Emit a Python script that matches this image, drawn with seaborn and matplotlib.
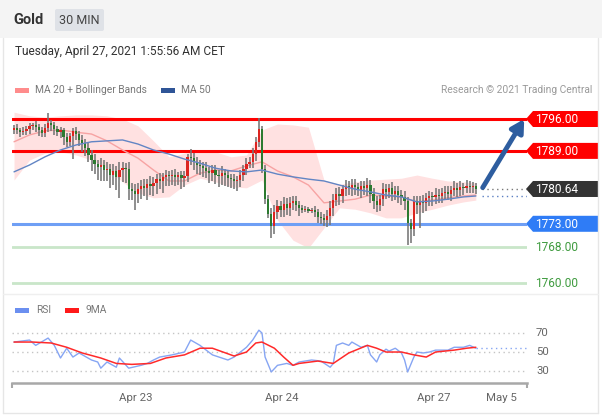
import matplotlib
matplotlib.use("Agg")
import numpy as np
import pandas as pd
import matplotlib.pyplot as plt
import seaborn as sns
from matplotlib.patches import Rectangle, Polygon, FancyBboxPatch

# %% DATA  (30 min candles, gold)
close = [
    1794.0, 1793.6, 1793.2, 1793.4, 1793.8, 1794.4, 1794.7, 1794.2, 1793.6, 1793.0,
    1794.0, 1795.2, 1794.6, 1793.9, 1793.2, 1793.5, 1792.0, 1791.0, 1792.2, 1793.4,
    1792.6, 1791.5, 1790.8, 1789.6, 1788.2, 1787.0, 1786.2, 1785.4, 1786.0, 1784.8,
    1785.0, 1783.8, 1784.6, 1783.2, 1784.8, 1785.2, 1785.0, 1780.6, 1780.2, 1779.6,
    1780.6, 1781.4, 1780.8, 1781.8, 1781.2, 1782.0, 1782.8, 1782.4, 1783.2, 1783.6,
    1783.4, 1783.8, 1783.2, 1783.6, 1783.0, 1783.4, 1787.6, 1787.4, 1786.6, 1786.0,
    1785.6, 1785.2, 1784.6, 1784.2, 1784.8, 1783.8, 1783.4, 1784.2, 1783.6, 1783.0,
    1782.8, 1782.4, 1782.6, 1783.8, 1785.0, 1786.2, 1786.6, 1788.4, 1791.0, 1793.8,
    1785.0, 1778.5, 1775.2, 1772.6, 1775.5, 1776.8, 1776.0, 1777.4, 1776.4, 1777.6,
    1778.0, 1777.2, 1776.4, 1776.0, 1776.2, 1775.8, 1776.0, 1775.6, 1774.6, 1774.2,
    1773.8, 1774.8, 1776.4, 1778.2, 1779.6, 1779.0, 1780.6, 1781.4, 1780.8, 1781.6,
    1781.0, 1780.4, 1781.2, 1780.8, 1781.6, 1779.6, 1778.0, 1777.2, 1778.4, 1780.6,
    1780.0, 1780.8, 1779.6, 1780.2, 1779.4, 1778.8, 1778.0, 1773.2, 1771.8, 1778.0,
    1777.2, 1778.0, 1777.6, 1778.6, 1779.0, 1778.8, 1779.4, 1779.2, 1779.8, 1780.0,
    1779.6, 1780.4, 1780.8, 1780.4, 1781.0, 1780.8, 1781.4, 1781.0, 1781.2, 1780.64,
]
first_open = 1793.6
wick_up = [
    0.6, 0.8, 0.5, 0.9, 0.6, 0.7, 0.5, 0.8, 0.6, 0.7,
    0.8, 2.1, 0.6, 0.7, 0.5, 0.8, 0.6, 0.9, 0.7, 0.6,
    0.8, 0.7, 1.0, 0.9, 1.2, 1.0, 1.4, 0.9, 1.5, 1.1,
    1.5, 1.2, 1.6, 1.0, 1.8, 1.4, 1.2, 1.5, 1.3, 1.6,
    1.4, 1.2, 1.5, 1.1, 1.6, 1.3, 1.2, 1.4, 1.0, 1.2,
    1.0, 0.9, 1.2, 0.8, 1.0, 1.1, 0.8, 1.8, 1.2, 1.0,
    1.1, 1.0, 1.3, 0.9, 1.2, 1.0, 1.1, 1.4, 0.9, 1.2,
    1.0, 1.2, 0.9, 1.1, 1.0, 1.3, 1.0, 1.2, 1.1, 2.5,
    0.6, 1.0, 0.8, 1.2, 1.6, 1.4, 1.2, 1.5, 1.3, 1.2,
    1.0, 1.2, 0.9, 0.8, 0.6, 0.5, 0.4, 0.8, 0.7, 1.0,
    1.0, 1.2, 1.5, 1.3, 1.2, 1.4, 1.0, 1.3, 1.1, 1.2,
    1.2, 1.0, 1.3, 1.1, 1.4, 1.0, 1.2, 1.1, 1.0, 1.3,
    1.2, 1.0, 1.3, 1.1, 1.2, 1.0, 1.4, 0.8, 0.8, 1.0,
    1.2, 1.0, 1.3, 1.1, 1.2, 1.0, 1.4, 1.2, 1.1, 1.3,
    1.2, 1.0, 1.6, 1.1, 1.3, 1.0, 1.2, 1.1, 1.0, 0.8,
]
wick_dn = [
    0.8, 1.0, 1.2, 0.7, 0.9, 1.1, 0.8, 1.0, 1.3, 0.9,
    1.0, 0.8, 1.2, 1.5, 1.0, 1.4, 1.8, 1.2, 1.0, 5.0,
    1.2, 1.5, 2.0, 1.8, 1.6, 2.5, 2.2, 2.8, 3.0, 2.4,
    2.5, 3.0, 2.2, 2.8, 4.5, 2.6, 3.0, 2.4, 2.0, 3.6,
    2.0, 2.2, 1.8, 2.5, 1.9, 2.1, 2.4, 1.8, 2.6, 2.0,
    2.2, 1.8, 2.0, 1.6, 2.3, 1.9, 1.2, 1.5, 1.8, 2.0,
    1.8, 2.0, 1.6, 2.2, 1.9, 2.1, 2.4, 1.8, 2.3, 2.0,
    2.0, 1.8, 2.2, 1.6, 1.4, 1.2, 1.0, 1.4, 1.6, 1.2,
    0.8, 1.2, 1.0, 2.7, 1.8, 1.5, 1.6, 1.4, 1.5, 1.6,
    1.5, 1.4, 1.6, 0.6, 0.4, 0.5, 0.5, 1.2, 1.4, 1.3,
    1.2, 1.5, 2.1, 1.6, 1.4, 1.8, 1.5, 1.6, 1.4, 1.7,
    1.6, 1.4, 1.8, 1.5, 1.7, 2.0, 1.8, 1.6, 1.4, 1.5,
    1.5, 1.4, 1.6, 1.3, 1.8, 1.6, 2.0, 4.9, 3.0, 1.5,
    2.0, 5.1, 2.2, 1.8, 1.6, 1.9, 1.5, 1.7, 1.6, 1.4,
    1.4, 1.6, 1.3, 1.5, 1.2, 1.4, 1.1, 1.3, 1.2, 1.0,
]

# indicators, read every 5 candles
band_idx = [0, 5, 10, 15, 20, 25, 30, 35, 40, 45, 50, 55, 60, 65, 70, 75,
            80, 85, 90, 95, 100, 105, 110, 115, 120, 125, 130, 135, 140, 145, 149]
bb_upper = [1797.5, 1796.7, 1796.4, 1796.7, 1796.9, 1796.9, 1796.7, 1796.0, 1794.5, 1791.2,
            1787.7, 1788.5, 1789.2, 1788.8, 1787.7, 1788.1, 1793.6, 1794.9, 1794.7, 1794.2,
            1782.6, 1781.7, 1782.2, 1782.6, 1782.8, 1783.0, 1783.7, 1783.0, 1782.4, 1782.2, 1782.0]
bb_lower = [1782.6, 1787.0, 1788.5, 1788.8, 1788.1, 1787.0, 1785.2, 1782.2, 1779.8, 1778.7,
            1778.9, 1781.5, 1783.0, 1782.2, 1781.1, 1780.9, 1782.6, 1773.8, 1769.4, 1767.7,
            1772.1, 1776.5, 1776.2, 1775.4, 1774.3, 1774.3, 1775.4, 1776.2, 1777.1, 1777.8, 1778.2]
ma20 = [1791.0, 1792.5, 1793.4, 1793.6, 1793.1, 1792.7, 1791.2, 1789.2, 1787.4, 1784.8,
        1782.4, 1782.4, 1784.1, 1784.8, 1784.6, 1785.7, 1786.6, 1784.6, 1783.3, 1781.5,
        1777.6, 1778.0, 1778.4, 1779.3, 1779.1, 1778.9, 1777.8, 1778.2, 1778.7, 1779.1, 1779.3]
ma50 = [1784.4, 1785.9, 1787.7, 1789.2, 1790.3, 1791.0, 1791.2, 1791.4, 1790.5, 1789.2,
        1788.3, 1787.2, 1786.3, 1785.2, 1784.6, 1784.4, 1784.8, 1783.9, 1783.3, 1782.8,
        1782.4, 1781.5, 1780.6, 1780.0, 1779.3, 1778.9, 1777.8, 1778.0, 1778.4, 1778.9, 1779.1]

rsi_idx = [0, 5, 7, 11, 13, 15, 17, 19, 21, 25, 27, 28, 30, 33, 34, 37, 41, 43, 45, 47,
           51, 55, 57, 60, 64, 69, 71, 75, 77, 79, 80, 81, 83, 85, 88, 90, 92, 96, 99, 102,
           103, 104, 106, 108, 109, 112, 114, 115, 117, 118, 120, 121, 123, 125, 126, 127,
           129, 130, 132, 134, 136, 140, 142, 145, 147, 149]
rsi_val = [60.5, 62.6, 57, 64.7, 57, 43.7, 54, 44.7, 49, 41.6, 39.5, 33, 39.5, 34, 43.7, 33,
           36, 38, 41.6, 44.7, 47, 50, 62.6, 57, 47, 41.6, 44.7, 55, 62.6, 73, 70, 44.7, 29,
           36, 38, 36, 39.5, 41.6, 40.5, 34, 38, 57, 59.5, 57, 60.5, 55, 57, 47, 39.5, 47,
           53, 51, 54, 49, 41.6, 29, 44.7, 50, 49, 50, 52, 52, 55, 55, 57, 54]
rsi_ma_idx = [0, 6, 12, 17, 22, 28, 33, 38, 44, 49, 55, 60, 64, 71, 75, 78, 80, 84, 87, 90,
              92, 98, 103, 108, 114, 117, 120, 125, 129, 133, 136, 142, 146, 149]
rsi_ma_val = [60.5, 60.5, 59.5, 55, 49, 43.7, 38, 37, 38, 43.7, 47, 54, 54, 45.8, 50, 59.5,
              60.5, 54, 44.7, 36, 38, 40.5, 38, 49, 57, 54, 50, 50, 47, 44.7, 50, 52, 54, 55]

resist = [1796.00, 1789.00]
support = [1773.00]
targets = [1768.00, 1760.00]
rsi_levels = [70, 50, 30]
date_labels = ["Apr 23", "Apr 24", "Apr 27", "May 5"]
date_pos = [39.4, 86.5, 135.5, 157.4]

# %% STYLE
sns.set_style("white")
plt.rcParams['font.family'] = ['Roboto', 'DejaVu Sans']

W, H = 602, 416
fig = plt.figure(figsize=(W / 100, H / 100), dpi=100)
fig.patch.set_facecolor("white")

bg = fig.add_axes([0, 0, 1, 1], zorder=0)
bg.set_xlim(0, W)
bg.set_ylim(H, 0)
bg.axis("off")

ax = fig.add_axes([12 / W, 1 - 292 / H, 515 / W, 192 / H], zorder=2)
ax.set_facecolor("none")
ax.set_xlim(-0.65, 165.5)
ax.set_ylim(1758.03, 1800.17)
ax.axis("off")

rx = fig.add_axes([12 / W, 1 - 383 / H, 515 / W, 63 / H], zorder=2)
rx.set_facecolor("none")
rx.set_xlim(-0.65, 165.5)
rx.set_ylim(17.4, 83.7)
for s in rx.spines.values():
    s.set_visible(False)
rx.set_yticks([])

# %% HEADER / FRAME
bg.add_patch(Rectangle((0, 0), W, 38, color="#f4f4f4", lw=0))
bg.add_patch(FancyBboxPatch((55, 9), 49, 22, boxstyle="round,pad=0,rounding_size=2",
                            color="#dfe2e7", lw=0))
bg.text(13, 20, "Gold", fontsize=10.5, fontweight="bold", color="#333", va="center")
bg.text(79.5, 20, "30 MIN", fontsize=9, color="#444", va="center", ha="center")
bg.text(15, 52, "Tuesday, April 27, 2021 1:55:56 AM CET", fontsize=8.6, color="#333",
        va="center")
frame = "#e6e6e6"
bg.plot([3, 3], [38, 413], color=frame, lw=1)
bg.plot([598, 598], [38, 413], color=frame, lw=1)
bg.plot([3, 598], [413, 413], color=frame, lw=1)
bg.plot([3, 598], [294, 294], color="#efefef", lw=1)

bg.add_patch(Rectangle((15, 88), 14, 4.5, color="#ff8c8c", lw=0))
bg.text(35, 90, "MA 20 + Bollinger Bands", fontsize=7.4, color="#777", va="center")
bg.add_patch(Rectangle((161, 88), 14, 4.5, color="#2f5597", lw=0))
bg.text(181, 90, "MA 50", fontsize=7.4, color="#777", va="center")
bg.text(592, 90, "Research \u00a9 2021 Trading Central", fontsize=7.4, color="#9a9a9a",
        va="center", ha="right")

bg.add_patch(Rectangle((15, 308), 14, 4.5, color="#6b8ff0", lw=0))
bg.text(36, 310, "RSI", fontsize=7.4, color="#777", va="center")
bg.add_patch(Rectangle((65, 308), 14, 4.5, color="#ff1a1a", lw=0))
bg.text(86, 310, "9MA", fontsize=7.4, color="#777", va="center")

# %% CANDLES
n = len(close)
idx = np.arange(n)
cl = np.array(close)
op = np.concatenate([[first_open], cl[:-1]])
top = np.maximum(op, cl)
bot = np.minimum(op, cl)
hi = top + np.array(wick_up)
lo = bot - np.array(wick_dn)
cols = np.where(cl >= op, "#dc2420", "#2c7a30")

ax.fill_between(band_idx, bb_lower, bb_upper, color="#ffdcdc", alpha=0.85, lw=0, zorder=1)
for lv in resist:
    ax.axhline(lv, color="#ff0000", lw=2.2, zorder=2)
for lv in support:
    ax.axhline(lv, color="#6f9ff5", lw=2.2, zorder=2)
for lv in targets:
    ax.axhline(lv, color="#c9e6c9", lw=2, zorder=2)

ax.vlines(idx, lo, hi, color="#767676", lw=1.15, zorder=4)
ax.bar(idx, np.maximum(top - bot, 0.15), bottom=bot, width=0.72, color=cols, lw=0, zorder=5)

sns.lineplot(x=band_idx, y=ma20, ax=ax, color="#f7a3a3", lw=1, estimator=None, zorder=3)
sns.lineplot(x=band_idx, y=ma50, ax=ax, color="#6285c4", lw=1, estimator=None, zorder=6)

# dotted continuation of last price and MA 50
ax.hlines(cl[-1], n + 1, 165.5, color="#777", lw=1, linestyles=(0, (1, 2.5)), zorder=3)
ax.hlines(ma50[-1], n + 1, 165.5, color="#5a7fc2", lw=1, linestyles=(0, (1, 2.5)), zorder=3)

ax.annotate("", xy=(164.6, resist[0]), xytext=(n + 1.2, cl[-1] + 0.3),
            arrowprops=dict(arrowstyle="-|>,head_length=0.75,head_width=0.42",
                            color="#2e5d9f", lw=3.5, shrinkA=0, shrinkB=0),
            annotation_clip=False, zorder=7)


def ypx(price):
    return H - ax.transData.transform((0, price))[1]


def tag(price, color, text):
    y = ypx(price)
    bg.add_patch(Polygon([(526, y), (533, y - 8), (598, y - 8), (598, y + 8), (533, y + 8)],
                         closed=True, color=color, lw=0))
    bg.text(535.5, y + 0.5, text, fontsize=8.6, color="white", va="center")


for lv in resist:
    tag(lv, "#ff0000", f"{lv:.2f}")
tag(cl[-1], "#333333", f"{cl[-1]:.2f}")
for lv in support:
    tag(lv, "#2f7cf6", f"{lv:.2f}")
for lv in targets:
    bg.text(535.5, ypx(lv) + 0.5, f"{lv:.2f}", fontsize=8.6, color="#3f9b3f", va="center")

# %% RSI
for lv in rsi_levels:
    rx.axhline(lv, color="#c4c4c4", lw=1, ls=(0, (1, 2.5)), zorder=1)
    bg.text(536, H - rx.transData.transform((0, lv))[1], str(lv), fontsize=8.2,
            color="#666", va="center")
sns.lineplot(x=rsi_idx, y=rsi_val, ax=rx, color="#86a5f3", lw=1, estimator=None, zorder=3)
sns.lineplot(x=rsi_ma_idx, y=rsi_ma_val, ax=rx, color="#ff2a2a", lw=1.1, estimator=None,
             zorder=4)
rx.hlines(rsi_val[-1], n - 1, 165.5, color="#86a5f3", lw=1, linestyles=(0, (1, 2.5)), zorder=2)

rx.spines["bottom"].set_visible(True)
rx.spines["bottom"].set_color("#a8a8a8")
rx.spines["bottom"].set_linewidth(1.8)
rx.set_xticks(date_pos)
rx.set_xticklabels(date_labels)
rx.tick_params(axis="x", length=0, pad=7, labelsize=8.2, labelcolor="#666")
rx.vlines([-0.65, 165.5], -0.08, 0, transform=rx.get_xaxis_transform(), color="#a8a8a8",
          lw=1.5, clip_on=False)
rx.set_xlabel("")
rx.set_ylabel("")

fig.savefig("out.png", dpi=100)
